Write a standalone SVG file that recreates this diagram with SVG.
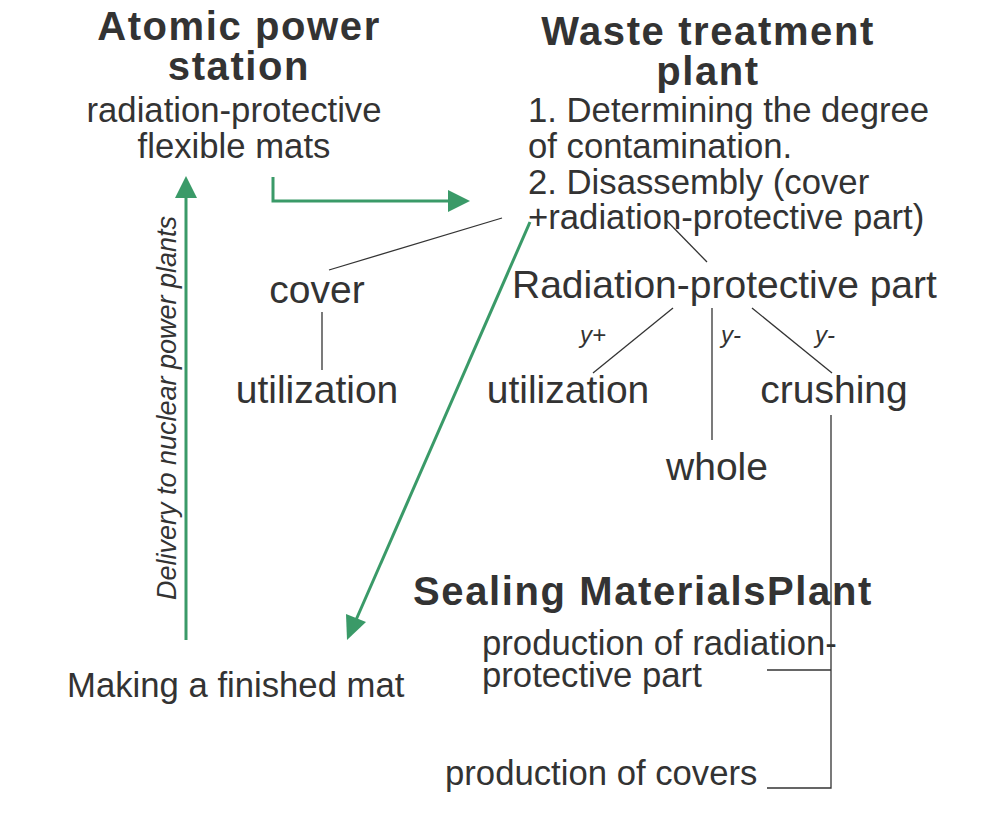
<svg xmlns="http://www.w3.org/2000/svg" width="1000" height="817" viewBox="0 0 1000 817">
<style>
text{fill:#333333;font-family:"Liberation Sans",Arial,sans-serif}
.h{font-weight:bold;font-size:40px;letter-spacing:1.6px;text-anchor:middle}
.b{font-size:34.7px}
.m{font-size:39px}
.c{text-anchor:middle}
.y{font-size:24px;font-style:italic}
.d{font-size:27px;font-style:italic;text-anchor:middle}
.g{stroke:#3a9a68;stroke-width:3;fill:none}
.k{stroke:#333333;stroke-width:1.3;fill:none}
</style>
<rect width="1000" height="817" fill="#ffffff"/>
<g id="connectors">
<path class="g" d="M273,177 V201 H452"/>
<path d="M470,201 L448,190 L448,212 z" fill="#3a9a68"/>
<path class="g" d="M186,640 V195"/>
<path d="M186,176 L175,198 L197,198 z" fill="#3a9a68"/>
<path class="g" d="M530,222 L356,620"/>
<path d="M347,640 L346,614 L366,622 z" fill="#3a9a68"/>
<path class="k" d="M502,218 L329,270"/>
<path class="k" d="M322,312 V370"/>
<path class="k" d="M666,220 L707,262"/>
<path class="k" d="M673,308 L593,373"/>
<path class="k" d="M712,308 V440"/>
<path class="k" d="M752,308 L832,373"/>
<path class="k" d="M831,415 V788 H767"/>
<path class="k" d="M767,670 H831"/>
</g>
<g id="atomic">
<text class="h" x="239" y="40">Atomic power</text>
<text class="h" x="239" y="80">station</text>
<text class="b c" x="234" y="122">radiation-protective</text>
<text class="b c" x="234" y="158">flexible mats</text>
</g>
<g id="waste">
<text class="h" x="708" y="45">Waste treatment</text>
<text class="h" x="708" y="85">plant</text>
<text class="b" x="528" y="122">1. Determining the degree</text>
<text class="b" x="528" y="158">of contamination.</text>
<text class="b" x="528" y="194">2. Disassembly (cover</text>
<text class="b" x="528" y="229">+radiation-protective part)</text>
</g>
<g id="delivery">
<text class="d" transform="translate(176,408) rotate(-90)">Delivery to nuclear power plants</text>
</g>
<g id="cover"><text class="m c" x="317" y="303">cover</text></g>
<g id="util1"><text class="m c" x="317" y="403">utilization</text></g>
<g id="rpp"><text class="m" x="512" y="298">Radiation-protective part</text></g>
<g id="labels">
<text class="y" x="580" y="343">y+</text>
<text class="y" x="721" y="343">y-</text>
<text class="y" x="815" y="343">y-</text>
</g>
<g id="util2"><text class="m c" x="568" y="403">utilization</text></g>
<g id="crushing"><text class="m c" x="834" y="403">crushing</text></g>
<g id="whole"><text class="m c" x="717" y="480">whole</text></g>
<g id="sealing">
<text class="h" x="643" y="605">Sealing MaterialsPlant</text>
<text class="b" x="482" y="655">production of radiation-</text>
<text class="b" x="482" y="687">protective part</text>
</g>
<g id="covers"><text class="b" x="445" y="785">production of covers</text></g>
<g id="mat"><text class="b" x="67" y="697">Making a finished mat</text></g>
</svg>
